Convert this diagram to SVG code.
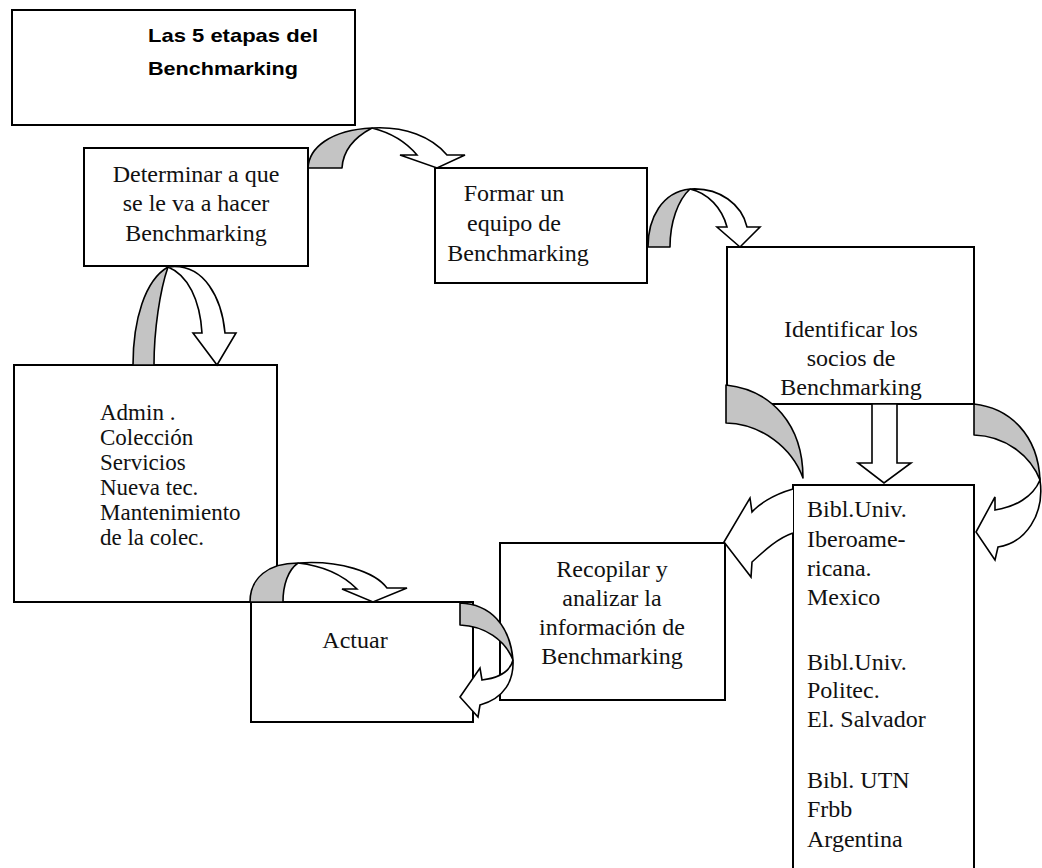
<svg xmlns="http://www.w3.org/2000/svg" width="1042" height="868" viewBox="0 0 1042 868">
<style>
.box{fill:#fff;stroke:#000;stroke-width:2}
.t{font-family:"Liberation Serif","Times New Roman",serif;font-size:24px;fill:#111}
.c{text-anchor:middle}
.a{font-size:23px}
.title{font-family:"Liberation Sans",Arial,sans-serif;font-weight:bold;font-size:19px;fill:#000}
.g{fill:#c4c4c4;stroke:#000;stroke-width:1.6;stroke-linejoin:round}
.w{fill:#fff;stroke:#000;stroke-width:1.6;stroke-linejoin:miter}
</style>
<rect width="1042" height="868" fill="#fff"/>
<g id="title">
<rect class="box" x="12" y="10" width="343" height="115"/>
<text class="title" x="148" y="42" textLength="170" lengthAdjust="spacingAndGlyphs">Las 5 etapas del</text>
<text class="title" x="148" y="75" textLength="150" lengthAdjust="spacingAndGlyphs">Benchmarking</text>
</g>
<g id="n1">
<rect class="box" x="84" y="148" width="224" height="118"/>
<text class="t c" x="196" y="182">Determinar a que</text>
<text class="t c" x="196" y="211">se le va a hacer</text>
<text class="t c" x="196" y="241">Benchmarking</text>
</g>
<g id="n2">
<rect class="box" x="435" y="168" width="212" height="115"/>
<text class="t c" x="514" y="201">Formar un</text>
<text class="t c" x="514" y="231">equipo de</text>
<text class="t c" x="518" y="261">Benchmarking</text>
</g>
<g id="n3">
<rect class="box" x="727" y="247" width="247" height="157"/>
<text class="t c" x="851" y="337">Identificar los</text>
<text class="t c" x="851" y="366">socios de</text>
<text class="t c" x="851" y="395">Benchmarking</text>
</g>
<g id="admin">
<rect class="box" x="14" y="365" width="263" height="237"/>
<text class="t a" x="100" y="420">Admin .</text>
<text class="t a" x="100" y="445">Colección</text>
<text class="t a" x="100" y="470">Servicios</text>
<text class="t a" x="100" y="495">Nueva tec.</text>
<text class="t a" x="100" y="520">Mantenimiento</text>
<text class="t a" x="100" y="545">de la colec.</text>
</g>
<g id="actuar">
<rect class="box" x="251" y="602" width="222" height="120"/>
<text class="t c" x="355" y="648">Actuar</text>
</g>
<g id="recopilar">
<rect class="box" x="500" y="543" width="225" height="157"/>
<text class="t c" x="612" y="577">Recopilar y</text>
<text class="t c" x="612" y="606">analizar la</text>
<text class="t c" x="612" y="635">información de</text>
<text class="t c" x="612" y="664">Benchmarking</text>
</g>
<g id="socios">
<rect class="box" x="793" y="485" width="181" height="400"/>
<text class="t" x="807" y="517">Bibl.Univ.</text>
<text class="t" x="807" y="547">Iberoame-</text>
<text class="t" x="807" y="576">ricana.</text>
<text class="t" x="807" y="605">Mexico</text>
<text class="t" x="807" y="670">Bibl.Univ.</text>
<text class="t" x="807" y="698">Politec.</text>
<text class="t" x="807" y="727">El. Salvador</text>
<text class="t" x="807" y="788">Bibl. UTN</text>
<text class="t" x="807" y="817">Frbb</text>
<text class="t" x="807" y="847">Argentina</text>
</g>
<g id="connectors">
<path class="g" d="M308,168 C309,148 330,130 372,128 C355,137 343,150 342,168 Z"/>
<path class="w" d="M372,128 C405,126 432,137 447,155 L465,155 L437,168 L400,155 L417,155 C407,143 392,133 372,128 Z"/>
<path class="g" d="M648,247 C648,218 662,192 690,189 C678,200 670,222 670,247 Z"/>
<path class="w" d="M690,189 C720,187 742,205 747,227 L760,227 L740,247 L717,227 L727,227 C722,208 708,193 690,189 Z"/>
<path class="g" d="M133,365 C133,320 145,280 168,267 C160,290 154,330 154,365 Z"/>
<path class="w" d="M168,267 C205,262 222,300 225,333 L236,333 L217,365 L193,333 L202,333 C200,300 188,275 168,267 Z"/>
<path class="g" d="M726,385 C772,390 803,425 803,478 C792,448 762,424 726,423 Z"/>
<path class="w" d="M793,489 C772,495 758,505 752,512 L750,498 L724,542 L751,577 L752,562 C765,550 778,538 793,533"/>
<polygon class="w" points="872,404 872,463 858,463 884,483 911,463 897,463 897,404"/>
<path class="g" d="M974,404 C1010,408 1038,435 1040,480 C1030,455 1005,436 974,435 Z"/>
<path class="w" d="M1040,480 C1045,515 1025,543 998,547 L995,560 L976,532 L995,497 L995,510 C1015,507 1033,497 1040,480 Z"/>
<path class="g" d="M250,602 C250,578 268,563 298,563 C288,570 283,585 283,602 Z"/>
<path class="w" d="M298,563 C340,560 375,572 387,588 L407,588 L373,602 L342,589 L357,589 C345,577 325,566 298,563 Z"/>
<path class="g" d="M460,603 C490,604 510,625 513,660 C505,640 485,626 460,625 Z"/>
<path class="w" d="M513,660 C514,680 505,698 480,705 L478,717 L460,697 L480,668 L482,680 C498,678 510,672 513,660 Z"/>
</g>
</svg>
